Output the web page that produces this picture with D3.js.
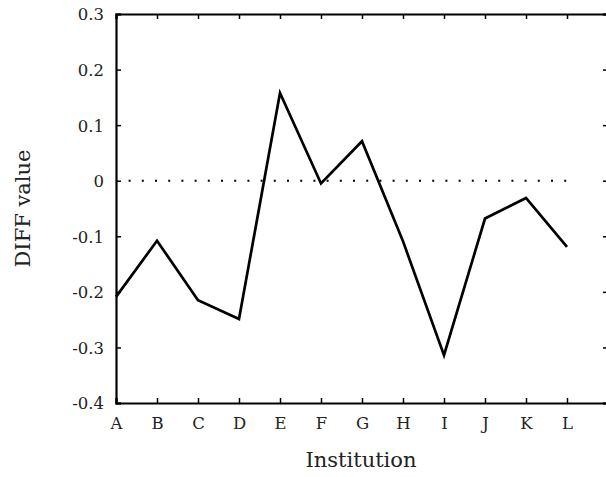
<!DOCTYPE html>
<html>
<head>
<meta charset="utf-8">
<script src="https://cdn.jsdelivr.net/npm/d3@7"></script>
<style>
  html, body { margin: 0; padding: 0; background: #fff; }
  svg { display: block; }
  text { font-family: "DejaVu Serif", "Liberation Serif", serif; fill: #222; }
</style>
</head>
<body>
<svg id="chart" width="606" height="477"></svg>
<script>
const categories = ["A","B","C","D","E","F","G","H","I","J","K","L"];
const diffValues = [-0.209, -0.108, -0.215, -0.249, 0.158, -0.005, 0.071, -0.109, -0.314, -0.068, -0.031, -0.119];
const yTicks = [0.3, 0.2, 0.1, 0, -0.1, -0.2, -0.3, -0.4];
const yTickLabels = ["0.3","0.2","0.1","0","-0.1","-0.2","-0.3","-0.4"];
const xLabel = "Institution";
const yLabel = "DIFF value";

(function () {
const svg = d3.select("#chart");
const mLeft = 116, mRight = 608, mTop = 14, mBottom = 403;

const x = d3.scaleLinear().domain([0, 12]).range([mLeft, mRight]);
const y = d3.scaleLinear().domain([-0.4, 0.3]).range([mBottom, mTop]);

// zero dotted line
svg.append("line")
  .attr("x1", x(0)).attr("x2", x(11))
  .attr("y1", y(0)).attr("y2", y(0))
  .attr("stroke", "#000").attr("stroke-width", 2)
  .attr("stroke-dasharray", "2,11.2")
  .attr("stroke-dashoffset", -12.6);

// data line
const line = d3.line().x((d, i) => x(i)).y(d => y(d));
svg.append("path")
  .datum(diffValues)
  .attr("d", line)
  .attr("fill", "none")
  .attr("stroke", "#000")
  .attr("stroke-width", 2.7)
  .attr("stroke-linejoin", "miter");

// axes
const idx = d3.range(categories.length);
const gB = svg.append("g").attr("transform", `translate(0,${mBottom})`)
  .call(d3.axisBottom(x).tickValues(idx).tickSize(-5).tickPadding(12)
    .tickFormat(i => categories[i]));
const gT = svg.append("g").attr("transform", `translate(0,${mTop})`)
  .call(d3.axisTop(x).tickValues(idx).tickSize(-5).tickFormat(""));
const gL = svg.append("g").attr("transform", `translate(${mLeft},0)`)
  .call(d3.axisLeft(y).tickValues(yTicks).tickSize(-5).tickPadding(12)
    .tickFormat((d, i) => yTickLabels[i]));
const gR = svg.append("g").attr("transform", `translate(${mRight},0)`)
  .call(d3.axisRight(y).tickValues(yTicks).tickSize(-5).tickFormat(""));

[gB, gT, gL, gR].forEach(g => {
  g.select(".domain").attr("stroke", "#000").attr("stroke-width", 2.2);
  g.selectAll(".tick line").attr("stroke", "#000").attr("stroke-width", 1.5);
  g.selectAll("text").attr("font-family", "DejaVu Serif, serif")
    .attr("font-size", 16.5).attr("fill", "#2a2a2a");
});
gB.selectAll("text").attr("dy", null).attr("y", 26);
gL.selectAll("text").attr("dy", "0.36em");

// axis titles
svg.append("text")
  .attr("x", (mLeft + 606) / 2).attr("y", 467)
  .attr("text-anchor", "middle")
  .attr("font-size", 21)
  .attr("fill", "#1a1a1a")
  .text(xLabel);
svg.append("text")
  .attr("transform", `translate(30,${(mTop + mBottom) / 2}) rotate(-90)`)
  .attr("text-anchor", "middle")
  .attr("font-size", 21)
  .attr("fill", "#1a1a1a")
  .text(yLabel);
})();
</script>
</body>
</html>
